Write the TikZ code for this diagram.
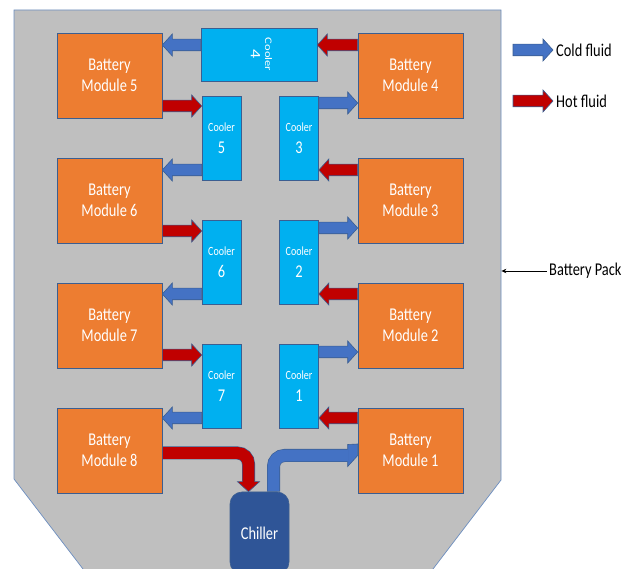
\documentclass[tikz,border=0pt]{standalone}
\usepackage{fontspec}
\newfontfamily\cf[FakeStretch=0.8]{Carlito}
\newfontfamily\cfn{Carlito}
\usetikzlibrary{arrows.meta,calc}
\definecolor{packgray}{HTML}{BFBFBF}
\definecolor{packedgec}{HTML}{6C8EBF}
\definecolor{modorange}{HTML}{ED7D31}
\definecolor{coolcyan}{HTML}{00B0F0}
\definecolor{edgeblue}{HTML}{3B5E91}
\definecolor{cold}{HTML}{4472C4}
\definecolor{hot}{HTML}{C00000}
\definecolor{chillc}{HTML}{2F5597}
\newcommand\blkR[3]{\path[draw=edgeblue, line width=0.6pt, fill=#3] let \p1=(#1), \p2=(#2) in (\x1,\y1+5.8pt) -- (\x2-10pt,\y1+5.8pt) -- (\x2-10pt,\y1+11pt) -- (\x2,\y1) -- (\x2-10pt,\y1-11pt) -- (\x2-10pt,\y1-5.8pt) -- (\x1,\y1-5.8pt) -- cycle;}
\newcommand\blkL[3]{\path[draw=edgeblue, line width=0.6pt, fill=#3] let \p1=(#1), \p2=(#2) in (\x1,\y1+5.8pt) -- (\x2+10pt,\y1+5.8pt) -- (\x2+10pt,\y1+11pt) -- (\x2,\y1) -- (\x2+10pt,\y1-11pt) -- (\x2+10pt,\y1-5.8pt) -- (\x1,\y1-5.8pt) -- cycle;}
\tikzset{
  module/.style={draw=edgeblue, line width=0.6pt, fill=modorange, minimum width=105pt, minimum height=85pt, inner sep=0pt, align=center, text=white, font=\cf\fontsize{18}{21}\selectfont},
  coolerbox/.style={draw=edgeblue, line width=0.6pt, fill=coolcyan, minimum width=39pt, minimum height=84pt, inner sep=0pt, align=center, text=white, font=\cf\fontsize{12.5}{22}\selectfont},
  legendtxt/.style={inner sep=0pt, text=black, font=\cf\fontsize{18}{21}\selectfont},
  num/.style={font=\cf\fontsize{18}{22}\selectfont}
}
\begin{document}
\begin{tikzpicture}[x=1pt,y=-1pt]
\clip (0,0) rectangle (638,569);
% battery pack outline
\draw[fill=packgray, draw=packedgec, line width=0.7pt] (14,10) -- (501,10) -- (501,480) -- (428.4,575) -- (87.6,575) -- (14,479) -- cycle;
\coordinate (packedge) at (501.4,271);
% modules
\node[module] (bm5) at (109.5,75.5) {Battery\\Module 5};
\node[module] (bm4) at (410.5,75.5) {Battery\\Module 4};
\node[module] (bm6) at (109.5,200.5) {Battery\\Module 6};
\node[module] (bm3) at (410.5,200.5) {Battery\\Module 3};
\node[module] (bm7) at (109.5,325.5) {Battery\\Module 7};
\node[module] (bm2) at (410.5,325.5) {Battery\\Module 2};
\node[module] (bm8) at (109.5,450.5) {Battery\\Module 8};
\node[module] (bm1) at (410.5,450.5) {Battery\\Module 1};
% coolers
\node[coolerbox, minimum width=116pt, minimum height=53pt] (c4) at (259,54.5) {};
\node[rotate=-90, text=white, inner sep=0pt, font=\cfn\fontsize{12.5}{19}\selectfont, align=center] (c4txt) at (261,54.5) {\scalebox{1}[0.8]{\begin{tabular}{@{}c@{}}Cooler\\[-1pt]{\fontsize{18}{19}\selectfont 4}\end{tabular}}};
\node[coolerbox] (c5) at (221.5,138) {Cooler\\{\fontsize{18}{22}\selectfont 5}};
\node[coolerbox] (c3) at (299,138) {Cooler\\{\fontsize{18}{22}\selectfont 3}};
\node[coolerbox] (c6) at (221.5,262) {Cooler\\{\fontsize{18}{22}\selectfont 6}};
\node[coolerbox] (c2) at (299,262) {Cooler\\{\fontsize{18}{22}\selectfont 2}};
\node[coolerbox] (c7) at (221.5,386) {Cooler\\{\fontsize{18}{22}\selectfont 7}};
\node[coolerbox] (c1) at (299,386) {Cooler\\{\fontsize{18}{22}\selectfont 1}};
% chiller
\node[draw=edgeblue, line width=0.6pt, fill=chillc, rounded corners=12pt, minimum width=59pt, minimum height=82pt, inner sep=0pt, text=white, font=\cf\fontsize{18}{21}\selectfont] (chiller) at (259.5,533) {Chiller};
% straight block arrows
\blkL{bm4.west |- 0,45}{c4.east}{hot}
\blkL{c4.west |- 0,45}{bm5.east}{cold}
\blkR{bm5.east |- 0,106}{c5.west}{hot}
\blkR{c3.east |- 0,103}{bm4.west}{cold}
\blkL{c5.west |- 0,170}{bm6.east}{cold}
\blkL{bm3.west |- 0,170}{c3.east}{hot}
\blkR{bm6.east |- 0,231}{c6.west}{hot}
\blkR{c2.east |- 0,228}{bm3.west}{cold}
\blkL{c6.west |- 0,294}{bm7.east}{cold}
\blkL{bm2.west |- 0,294}{c2.east}{hot}
\blkR{bm7.east |- 0,355}{c7.west}{hot}
\blkR{c1.east |- 0,352}{bm2.west}{cold}
\blkL{c7.west |- 0,418}{bm8.east}{cold}
\blkL{bm1.west |- 0,418}{c1.east}{hot}
% bent arrow: module 8 -> chiller (hot)
\path[fill=hot, draw=edgeblue, line width=0.6pt] ($(chiller.north)+(-22,-10)$) -- ($(chiller.north)+(0,-10)$) -- ($(chiller.north)+(-11,0)$) -- cycle;
\draw[edgeblue, line width=13pt, rounded corners=11pt] (bm8.east |- 0,453) -- (248.5,453) -- ($(chiller.north)+(-11,-10)$);
\draw[hot, line width=11.8pt, rounded corners=11pt] ($(bm8.east |- 0,453)+(0.6,0)$) -- (248.5,453) -- ($(chiller.north)+(-11,-9.2)$);
% bent arrow: chiller -> module 1 (cold)
\path[fill=cold, draw=edgeblue, line width=0.6pt] (bm1.west |- 0,444) -- (bm1.west |- 0,455.5) -- ($(bm1.west |- 0,455.5)+(-10,11)$) -- ($(bm1.west |- 0,455.5)+(-10,-11)$) -- cycle;
\draw[edgeblue, line width=13pt, rounded corners=11pt] ($(chiller.north)+(14,0)$) -- (273.5,455.5) -- ($(bm1.west |- 0,455.5)+(-10,0)$);
\draw[cold, line width=11.8pt, rounded corners=11pt] ($(chiller.north)+(14,-0.6)$) -- (273.5,455.5) -- ($(bm1.west |- 0,455.5)+(-9.2,0)$);
% legend
\coordinate (lc1) at (513,50);
\coordinate (lc2) at (553,50);
\coordinate (lh1) at (513,101);
\coordinate (lh2) at (553,101);
\blkR{lc1}{lc2}{cold}
\blkR{lh1}{lh2}{hot}
\node[legendtxt, anchor=base west] (coldtxt) at (556,57) {Cold fluid};
\node[legendtxt, anchor=base west] (hottxt) at (556,108) {Hot fluid};
\node[legendtxt, anchor=base west] (bplbl) at (549,276) {Battery Pack};
\draw[line width=0.7pt, -{Stealth[length=5pt,width=4.5pt]}] ($(bplbl.west |- packedge)+(-2,0)$) -- (packedge);
\end{tikzpicture}
\end{document}
